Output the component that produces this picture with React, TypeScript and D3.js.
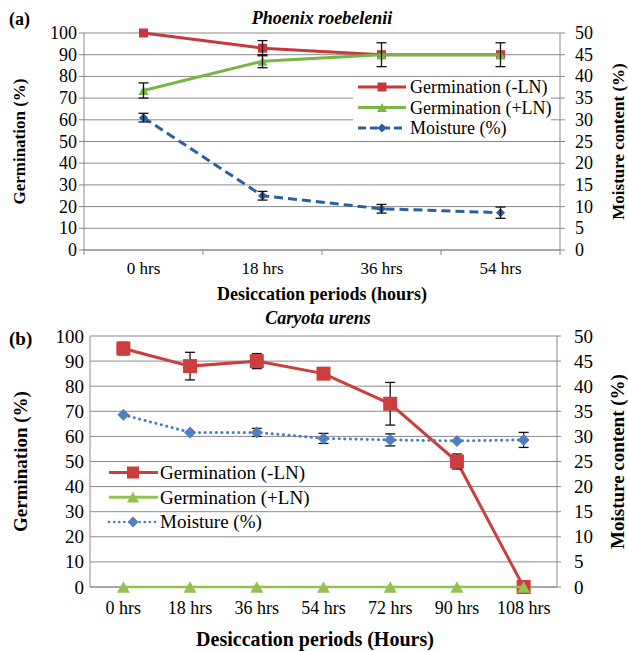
import React from "react";
import * as d3 from "d3";

const catsA = ["0 hrs", "18 hrs", "36 hrs", "54 hrs"];
const germMinusA = [100, 93, 90, 90];
const germMinusErrA = [0, 3.5, 0, 0];
const germPlusA = [73.5, 87, 90, 90];
const germPlusErrA = [3.5, 3, 5.5, 5.5];
const moistA = [30.5, 12.5, 9.5, 8.6];
const moistErrA = [1, 1, 1, 1.3];

const catsB = ["0 hrs", "18 hrs", "36 hrs", "54 hrs", "72 hrs", "90 hrs", "108 hrs"];
const germMinusB = [95, 88, 90, 85, 73, 50, 0];
const germMinusErrB = [2.5, 5.5, 3, 0, 8.5, 3, 0];
const germPlusB = [0, 0, 0, 0, 0, 0, 0];
const moistB = [34.3, 30.8, 30.8, 29.6, 29.3, 29.1, 29.3];
const moistErrB = [0, 0, 0.8, 1, 1.2, 0, 1.5];

const leftTicks = [0, 10, 20, 30, 40, 50, 60, 70, 80, 90, 100];
const rightTicks = [0, 5, 10, 15, 20, 25, 30, 35, 40, 45, 50];
const legendLabels = ["Germination (-LN)", "Germination (+LN)", "Moisture (%)"];

const GRID = "#8a8a8a";

function square(cx: number, cy: number, s: number, fill: string, key?: any) {
  return <rect key={key} x={cx - s / 2} y={cy - s / 2} width={s} height={s} fill={fill} />;
}
function triangle(cx: number, cy: number, s: number, fill: string, key?: any) {
  const h = s * 0.9;
  return (
    <path key={key} d={`M${cx},${cy - h / 2}L${cx + s / 2},${cy + h / 2}L${cx - s / 2},${cy + h / 2}Z`} fill={fill} />
  );
}
function diamond(cx: number, cy: number, s: number, fill: string, key?: any) {
  return (
    <path key={key} d={`M${cx},${cy - s / 2}L${cx + s / 2},${cy}L${cx},${cy + s / 2}L${cx - s / 2},${cy}Z`} fill={fill} />
  );
}

function ErrBar({ x, y0, y1, cap }: { x: number; y0: number; y1: number; cap: number }) {
  return (
    <g stroke="#111" strokeWidth={1.3}>
      <line x1={x} x2={x} y1={y0} y2={y1} />
      <line x1={x - cap} x2={x + cap} y1={y0} y2={y0} />
      <line x1={x - cap} x2={x + cap} y1={y1} y2={y1} />
    </g>
  );
}

function PanelA() {
  const left = 84, right = 560, top = 33, bottom = 250;
  const x = d3.scaleBand().domain(catsA).range([left, right]).padding(0);
  const cx = (c: string) => (x(c) as number) + x.bandwidth() / 2;
  const yL = d3.scaleLinear().domain([0, 100]).range([bottom, top]);
  const yR = d3.scaleLinear().domain([0, 50]).range([bottom, top]);
  const red = "#c8373a", green = "#78b544", blue = "#2c5ea3";
  const line = d3.line<[number, number]>();
  const ptsMinus = catsA.map((c, i) => [cx(c), yL(germMinusA[i])] as [number, number]);
  const ptsPlus = catsA.map((c, i) => [cx(c), yL(germPlusA[i])] as [number, number]);
  const ptsM = catsA.map((c, i) => [cx(c), yR(moistA[i])] as [number, number]);
  const boundaries = [...catsA.map((c) => x(c) as number), right];
  return (
    <g>
      {leftTicks.slice(1).map((t) => (
        <line key={t} x1={left} x2={right} y1={yL(t)} y2={yL(t)} stroke={GRID} strokeWidth={1} />
      ))}
      <line x1={left} x2={left} y1={top} y2={bottom} stroke={GRID} />
      <line x1={right} x2={right} y1={top} y2={bottom} stroke={GRID} />
      <line x1={left - 1} x2={right} y1={bottom} y2={bottom} stroke={GRID} strokeWidth={1.5} />
      {leftTicks.map((t) => (
        <g key={t}>
          <line x1={left - 5} x2={left} y1={yL(t)} y2={yL(t)} stroke={GRID} />
          <text fontFamily="Liberation Serif" x={left - 7} y={yL(t) + 6} textAnchor="end" fontSize={18}>{t}</text>
        </g>
      ))}
      {rightTicks.map((t) => (
        <g key={t}>
          <line x1={right} x2={right + 5} y1={yR(t)} y2={yR(t)} stroke={GRID} />
          <text fontFamily="Liberation Serif" x={right + 15} y={yR(t) + 6} textAnchor="start" fontSize={18}>{t}</text>
        </g>
      ))}
      {boundaries.map((b, i) => (
        <line key={i} x1={b} x2={b} y1={bottom} y2={bottom + 5} stroke={GRID} />
      ))}
      {catsA.map((c) => (
        <text fontFamily="Liberation Serif" key={c} x={cx(c)} y={274} textAnchor="middle" fontSize={17}>{c}</text>
      ))}
      <rect x={353} y={79} width={198} height={59} fill="#fff" />
      <path d={line(ptsMinus) || ""} fill="none" stroke={red} strokeWidth={3} />
      {ptsMinus.map((p, i) => square(p[0], p[1], 9, red, i))}
      {catsA.map((c, i) =>
        germMinusErrA[i] > 0 ? (
          <ErrBar key={"em" + i} x={cx(c)} y0={yL(germMinusA[i] + germMinusErrA[i])} y1={yL(germMinusA[i] - germMinusErrA[i])} cap={5} />
        ) : null
      )}
      <path d={line(ptsPlus) || ""} fill="none" stroke={green} strokeWidth={3} />
      {ptsPlus.map((p, i) => triangle(p[0], p[1], 10, green, i))}
      {catsA.map((c, i) =>
        germPlusErrA[i] > 0 ? (
          <ErrBar key={"ep" + i} x={cx(c)} y0={yL(germPlusA[i] + germPlusErrA[i])} y1={yL(germPlusA[i] - germPlusErrA[i])} cap={5} />
        ) : null
      )}
      <path d={line(ptsM) || ""} fill="none" stroke={blue} strokeWidth={3} strokeDasharray="9,5" />
      {ptsM.map((p, i) => diamond(p[0], p[1], 9, blue, i))}
      {catsA.map((c, i) =>
        moistErrA[i] > 0 ? (
          <ErrBar key={"eM" + i} x={cx(c)} y0={yR(moistA[i] + moistErrA[i])} y1={yR(moistA[i] - moistErrA[i])} cap={5} />
        ) : null
      )}
      {legendLabels.map((lab, i) => {
        const ly = 87 + i * 20.5;
        const col = [red, green, blue][i];
        return (
          <g key={lab}>
            <line x1={358} x2={406} y1={ly} y2={ly} stroke={col} strokeWidth={3} strokeDasharray={i === 2 ? "8,4" : undefined} />
            {i === 0 ? square(382, ly, 9, col) : i === 1 ? triangle(382, ly, 10, col) : diamond(382, ly, 9, col)}
            <text fontFamily="Liberation Serif" x={410} y={ly + 6} fontSize={18}>{lab}</text>
          </g>
        );
      })}
      <text fontFamily="Liberation Serif" x={322} y={24} textAnchor="middle" fontSize={18} fontWeight="bold" fontStyle="italic">Phoenix roebelenii</text>
      <text fontFamily="Liberation Serif" x={9} y={25} fontSize={18} fontWeight="bold">(a)</text>
      <text fontFamily="Liberation Serif" transform={`translate(25,${(top + bottom) / 2}) rotate(-90)`} textAnchor="middle" fontSize={17} fontWeight="bold">Germination (%)</text>
      <text fontFamily="Liberation Serif" transform={`translate(624,${(top + bottom) / 2}) rotate(-90)`} textAnchor="middle" fontSize={17} fontWeight="bold">Moisture content (%)</text>
      <text fontFamily="Liberation Serif" x={322} y={300} textAnchor="middle" fontSize={18} fontWeight="bold">Desiccation periods (hours)</text>
    </g>
  );
}

function PanelB() {
  const left = 90, right = 557, top = 336, bottom = 587;
  const x = d3.scaleBand().domain(catsB).range([left, right]).padding(0);
  const cx = (c: string) => (x(c) as number) + x.bandwidth() / 2;
  const yL = d3.scaleLinear().domain([0, 100]).range([bottom, top]);
  const yR = d3.scaleLinear().domain([0, 50]).range([bottom, top]);
  const red = "#cc3d3d", green = "#95c052", blue = "#4a7cc4";
  const line = d3.line<[number, number]>();
  const ptsMinus = catsB.map((c, i) => [cx(c), yL(germMinusB[i])] as [number, number]);
  const ptsPlus = catsB.map((c, i) => [cx(c), yL(germPlusB[i])] as [number, number]);
  const ptsM = catsB.map((c, i) => [cx(c), yR(moistB[i])] as [number, number]);
  return (
    <g>
      {leftTicks.slice(1).map((t) => (
        <line key={t} x1={left} x2={right} y1={yL(t)} y2={yL(t)} stroke={GRID} strokeWidth={1} />
      ))}
      <line x1={left} x2={left} y1={top} y2={bottom} stroke={GRID} />
      <line x1={right} x2={right} y1={top} y2={bottom} stroke={GRID} />
      <line x1={left} x2={right} y1={bottom} y2={bottom} stroke={GRID} strokeWidth={1.5} />
      {leftTicks.map((t) => (
        <text fontFamily="Liberation Serif" key={t} x={left - 6} y={yL(t) + 6.5} textAnchor="end" fontSize={19}>{t}</text>
      ))}
      {rightTicks.map((t) => (
        <g key={t}>
          <line x1={right} x2={right + 4} y1={yR(t)} y2={yR(t)} stroke={GRID} />
          <text fontFamily="Liberation Serif" x={right + 17} y={yR(t) + 6.5} textAnchor="start" fontSize={19}>{t}</text>
        </g>
      ))}
      {catsB.map((c) => (
        <text fontFamily="Liberation Serif" key={c} x={cx(c)} y={614} textAnchor="middle" fontSize={18}>{c}</text>
      ))}
      <path d={line(ptsMinus) || ""} fill="none" stroke={red} strokeWidth={3} />
      {catsB.map((c, i) =>
        germMinusErrB[i] > 0 ? (
          <ErrBar key={"em" + i} x={cx(c)} y0={yL(germMinusB[i] + germMinusErrB[i])} y1={yL(germMinusB[i] - germMinusErrB[i])} cap={5} />
        ) : null
      )}
      {ptsMinus.map((p, i) => square(p[0], p[1], 14, red, i))}
      <path d={line(ptsPlus) || ""} fill="none" stroke={green} strokeWidth={2.5} />
      {ptsPlus.map((p, i) => triangle(p[0], p[1], 13, green, i))}
      <path d={line(ptsM) || ""} fill="none" stroke={blue} strokeWidth={3} strokeDasharray="0.1,5.5" strokeLinecap="round" />
      {catsB.map((c, i) =>
        moistErrB[i] > 0 ? (
          <ErrBar key={"eM" + i} x={cx(c)} y0={yR(moistB[i] + moistErrB[i])} y1={yR(moistB[i] - moistErrB[i])} cap={5} />
        ) : null
      )}
      {ptsM.map((p, i) => diamond(p[0], p[1], 12, "#4f7fc0", i))}
      {legendLabels.map((lab, i) => {
        const ly = 472.5 + i * 24.7;
        const col = [red, green, blue][i];
        return (
          <g key={lab}>
            <line x1={109} x2={158} y1={ly} y2={ly} stroke={col} strokeWidth={i === 2 ? 2.5 : 3} strokeDasharray={i === 2 ? "0.1,5" : undefined} strokeLinecap={i === 2 ? "round" : undefined} />
            {i === 0 ? square(133, ly, 12, col) : i === 1 ? triangle(133, ly, 12, col) : diamond(133, ly, 11, "#4f7fc0")}
            <text fontFamily="Liberation Serif" x={160} y={ly + 6.5} fontSize={19}>{lab}</text>
          </g>
        );
      })}
      <text fontFamily="Liberation Serif" x={318} y={324} textAnchor="middle" fontSize={18} fontWeight="bold" fontStyle="italic">Caryota urens</text>
      <text fontFamily="Liberation Serif" x={9} y={345} fontSize={19} fontWeight="bold">(b)</text>
      <text fontFamily="Liberation Serif" transform={`translate(27,${(top + bottom) / 2}) rotate(-90)`} textAnchor="middle" fontSize={19} fontWeight="bold">Germination (%)</text>
      <text fontFamily="Liberation Serif" transform={`translate(624,${(top + bottom) / 2}) rotate(-90)`} textAnchor="middle" fontSize={19} fontWeight="bold">Moisture content (%)</text>
      <text fontFamily="Liberation Serif" x={315} y={646} textAnchor="middle" fontSize={20} fontWeight="bold">Desiccation periods (Hours)</text>
    </g>
  );
}

export default function App() {
  return (
    <div style={{ position: "absolute", left: 0, top: 0, width: 628, height: 651, background: "#fff" }}>
      <svg width={628} height={651}>
        <PanelA />
        <PanelB />
      </svg>
    </div>
  );
}
